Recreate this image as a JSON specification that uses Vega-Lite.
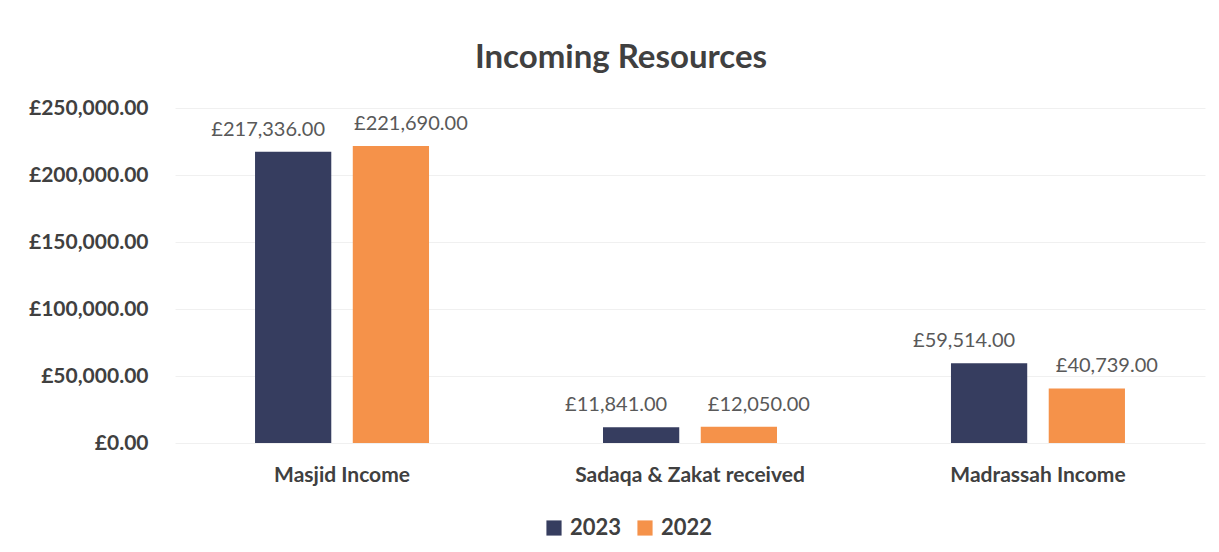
{
  "$schema": "https://vega.github.io/schema/vega-lite/v6.json",
  "autosize": "none",
  "width": 1030,
  "height": 335,
  "padding": {"left": 175, "top": 108, "right": 14, "bottom": 109},
  "background": "white",
  "title": {
    "text": "Incoming Resources",
    "font": "Lato",
    "fontSize": 33,
    "fontWeight": "bold",
    "color": "#404040",
    "anchor": "middle",
    "offset": 22,
    "dx": -69
  },
  "data": {
    "values": [
      {"category": "Masjid Income", "year": "2023", "value": 217336},
      {"category": "Masjid Income", "year": "2022", "value": 221690},
      {"category": "Sadaqa & Zakat received", "year": "2023", "value": 11841},
      {"category": "Sadaqa & Zakat received", "year": "2022", "value": 12050},
      {"category": "Madrassah Income", "year": "2023", "value": 59514},
      {"category": "Madrassah Income", "year": "2022", "value": 40739}
    ]
  },
  "encoding": {
    "x": {
      "field": "category",
      "type": "nominal",
      "sort": ["Masjid Income", "Sadaqa & Zakat received", "Madrassah Income"],
      "scale": {"paddingInner": 0.5, "paddingOuter": 0.23},
      "axis": {
        "title": null,
        "labelAngle": 0,
        "labelFont": "Lato",
        "labelFontSize": 21,
        "labelFontWeight": "bold",
        "labelColor": "#404040",
        "labelPadding": 21,
        "labelLimit": 0,
        "ticks": false,
        "domain": false
      }
    },
    "xOffset": {
      "field": "year",
      "type": "nominal",
      "sort": ["2023", "2022"],
      "scale": {"paddingInner": 0.22, "paddingOuter": 0}
    },
    "y": {
      "field": "value",
      "type": "quantitative",
      "scale": {"domain": [0, 250000]},
      "axis": {
        "title": null,
        "values": [0, 50000, 100000, 150000, 200000, 250000],
        "format": "$,.2f",
        "labelFont": "Lato",
        "labelFontSize": 21,
        "labelFontWeight": "bold",
        "labelColor": "#404040",
        "labelPadding": 27,
        "ticks": false,
        "domain": false,
        "grid": true,
        "gridColor": "#f0f0f0"
      }
    }
  },
  "layer": [
    {
      "mark": {"type": "bar"},
      "encoding": {
        "color": {
          "field": "year",
          "type": "nominal",
          "sort": ["2023", "2022"],
          "scale": {"domain": ["2023", "2022"], "range": ["#363d5f", "#f5924a"]},
          "legend": {
            "title": null,
            "orient": "none",
            "legendX": 368,
            "legendY": 409,
            "direction": "horizontal",
            "symbolType": "square",
            "symbolSize": 230,
            "symbolOpacity": 1,
            "labelFont": "Lato",
            "labelFontSize": 22,
            "labelFontWeight": "bold",
            "labelColor": "#404040",
            "columnPadding": 12,
            "labelOffset": 5
          }
        }
      }
    },
    {
      "transform": [{"filter": "datum.year === '2023'"}],
      "mark": {
        "type": "text",
        "baseline": "middle",
        "dy": -22,
        "dx": -25,
        "font": "Lato",
        "fontSize": 20,
        "color": "#595959"
      },
      "encoding": {
        "text": {"field": "value", "type": "quantitative", "format": "$,.2f"},
        "detail": {"field": "year"}
      }
    },
    {
      "transform": [{"filter": "datum.year === '2022'"}],
      "mark": {
        "type": "text",
        "baseline": "middle",
        "dy": -22,
        "dx": 20,
        "font": "Lato",
        "fontSize": 20,
        "color": "#595959"
      },
      "encoding": {
        "text": {"field": "value", "type": "quantitative", "format": "$,.2f"},
        "detail": {"field": "year"}
      }
    }
  ],
  "config": {
    "view": {"stroke": null},
    "locale": {"number": {"decimal": ".", "thousands": ",", "grouping": [3], "currency": ["£", ""]}}
  }
}
